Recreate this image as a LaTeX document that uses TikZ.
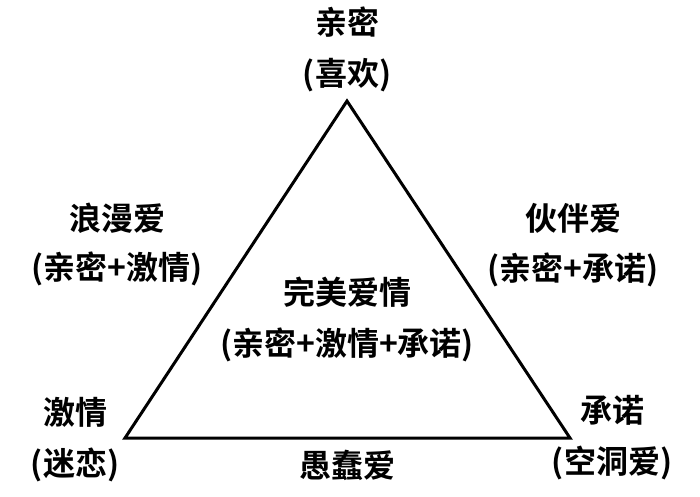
\documentclass[tikz,border=0pt]{standalone}
\usepackage{fontspec}
\setmainfont{Noto Sans CJK SC}[BoldFont={Noto Sans CJK SC Bold}]
\usetikzlibrary{positioning}
\tikzset{
  lbl/.style={font=\fontsize{32}{34}\selectfont\bfseries, inner sep=0pt},
}
\begin{document}
\begin{tikzpicture}[x=1pt,y=-1pt]
    \useasboundingbox (0,0) rectangle (700,496);
    % triangle corners
    \coordinate (top) at (347,101);
    \coordinate (left) at (125,438);
    \coordinate (right) at (570,438);
    \draw[line width=3pt, line join=miter] (top) -- (right) -- (left) -- cycle;

    % corners
    \node[lbl] (intimacy) at (347,22) {亲密};
    \node[lbl] (liking) at (347,75) {(喜欢)};
    \node[lbl] (passion) at (75,412) {激情};
    \node[lbl] (infatuation) at (75,465) {(迷恋)};
    \node[lbl] (commit) at (612,410) {承诺};
    \node[lbl] (empty) at (612,463) {(空洞爱)};

    % sides
    \node[lbl] (romantic) at (117,218) {浪漫爱};
    \node[lbl] (romanticsub) at (117,269) {(亲密+激情)};
    \node[lbl] (companion) at (573,218) {伙伴爱};
    \node[lbl] (companionsub) at (573,270) {(亲密+承诺)};
    \node[lbl] (fatuous) at (347,465) {愚蠢爱};

    % centre
    \node[lbl] (perfect) at (347,292) {完美爱情};
    \node[lbl] (perfectsub) at (347,345) {(亲密+激情+承诺)};
\end{tikzpicture}
\end{document}
